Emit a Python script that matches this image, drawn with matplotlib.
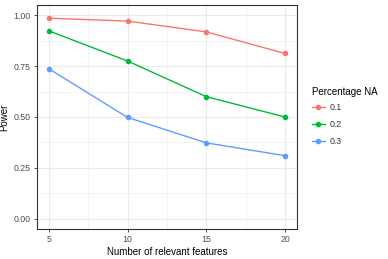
import matplotlib
matplotlib.use('Agg')
import matplotlib.pyplot as plt
from matplotlib.ticker import MultipleLocator

n_features = [5, 10, 15, 20]
pct_labels = ['0.1', '0.2', '0.3']
power_01 = [0.985, 0.971, 0.918, 0.812]
power_02 = [0.923, 0.775, 0.600, 0.500]
power_03 = [0.737, 0.498, 0.373, 0.310]
colors = ['#F8766D', '#00BA38', '#619CFF']

plt.rcParams['font.family'] = ['Liberation Sans', 'DejaVu Sans']

fig = plt.figure(figsize=(3.88, 2.59), dpi=100)
ax = fig.add_axes([37 / 388, 30 / 259, 259.8 / 388, 224 / 259])

for vals, lab, c in zip([power_01, power_02, power_03], pct_labels, colors):
    ax.plot(n_features, vals, color=c, lw=1.0, marker='o', markersize=3.0,
            label=lab, zorder=3)

ax.set_xlim(4.25, 20.75)
ax.set_ylim(-0.05, 1.05)
ax.set_xticks(n_features)
ax.set_yticks([0, 0.25, 0.5, 0.75, 1.0])
ax.set_yticklabels(['0.00', '0.25', '0.50', '0.75', '1.00'])
ax.xaxis.set_minor_locator(MultipleLocator(2.5))
ax.yaxis.set_minor_locator(MultipleLocator(0.125))
ax.grid(which='major', color='#EBEBEB', lw=0.8, zorder=0)
ax.grid(which='minor', color='#EBEBEB', lw=0.4, zorder=0)
ax.tick_params(which='major', length=2.5, width=0.6, color='#333333',
               labelsize=6.3, labelcolor='#4D4D4D', pad=2)
ax.tick_params(which='minor', length=0)
for s in ax.spines.values():
    s.set_color('#333333')
    s.set_linewidth(0.8)

ax.set_xlabel('Number of relevant features', fontsize=7.0, labelpad=2)
ax.set_ylabel('Power', fontsize=7.0, labelpad=3)

leg = ax.legend(title='Percentage NA', loc='upper left',
                bbox_to_anchor=(1.057, 0.632), frameon=False,
                fontsize=6.3, title_fontsize=7.0, handlelength=1.5,
                handletextpad=0.6, labelspacing=0.9, borderaxespad=0,
                borderpad=0)
leg._legend_box.align = 'left'
leg._legend_box.sep = 4
for t in leg.get_texts():
    t.set_color('#333333')

fig.savefig('out.png', dpi=100)
